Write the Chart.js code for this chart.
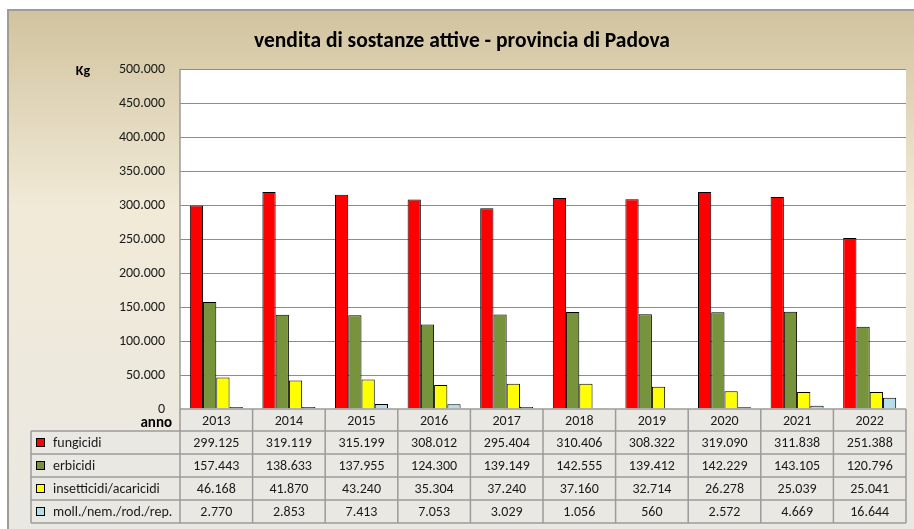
<!DOCTYPE html>
<html>
<head>
<meta charset="utf-8">
<script src="https://cdn.jsdelivr.net/npm/chart.js@4/dist/chart.umd.min.js"></script>
<style>
html,body{margin:0;padding:0;background:#ffffff;}
#wrap{width:914px;height:529px;position:relative;}
canvas{display:block;}
</style>
</head>
<body>
<div id="wrap"><canvas id="c" width="914" height="529"></canvas></div>
<script>
const title = "vendita di sostanze attive - provincia di Padova";
const years = ["2013","2014","2015","2016","2017","2018","2019","2020","2021","2022"];
const seriesNames = ["fungicidi","erbicidi","insetticidi/acaricidi","moll./nem./rod./rep."];
const fungicidi = [299125,319119,315199,308012,295404,310406,308322,319090,311838,251388];
const erbicidi = [157443,138633,137955,124300,139149,142555,139412,142229,143105,120796];
const insetticidi = [46168,41870,43240,35304,37240,37160,32714,26278,25039,25041];
const molluschicidi = [2770,2853,7413,7053,3029,1056,560,2572,4669,16644];
const seriesColors = ["#FF0000","#77933C","#FFFF00","#B7DEE8"];
const yMax = 500000, yStep = 50000;

const FONT = "Carlito, Lato, 'Liberation Sans', sans-serif";
function fmt(v){ return String(v).replace(/\B(?=(\d{3})+(?!\d))/g, "."); }

const allSeries = [fungicidi, erbicidi, insetticidi, molluschicidi];

const rowsY = [409, 431, 454, 477, 500, 523];
const tableLeft = 31;

const decor = {
  id: 'decor',
  beforeDraw(chart){
    const ctx = chart.ctx, ca = chart.chartArea;
    ctx.save();
    const g = ctx.createLinearGradient(0, 10, 0, 529);
    g.addColorStop(0, "#D1C39E");
    g.addColorStop(0.38, "#F1EAD7");
    g.addColorStop(1, "#EAE8E3");
    ctx.fillStyle = g;
    ctx.fillRect(8, 10, 906, 519);
    ctx.strokeStyle = "#9E9C94";
    ctx.lineWidth = 2;
    ctx.beginPath();
    ctx.moveTo(8, 529); ctx.lineTo(8, 10); ctx.lineTo(914, 10);
    ctx.stroke();
    // plot area
    ctx.fillStyle = "#FFFFFF";
    ctx.fillRect(ca.left, ca.top, ca.right - ca.left, ca.bottom - ca.top);
    // title
    ctx.fillStyle = "#000";
    ctx.font = "bold 21.5px " + FONT;
    ctx.textAlign = "center"; ctx.textBaseline = "middle";
    ctx.fillText(title, 462, 42);
    ctx.font = "bold 14px " + FONT;
    ctx.fillText("Kg", 83, 71);
    ctx.textAlign = "right";
    ctx.font = "bold 15px " + FONT;
    ctx.fillText("anno", 172, 423);
    ctx.restore();
  },
  afterDraw(chart){
    const ctx = chart.ctx, ca = chart.chartArea, xs = chart.scales.x;
    const n = years.length;
    const colW = (ca.right - ca.left) / n;
    ctx.save();
    // table background
    ctx.fillStyle = "#EAE8E2";
    ctx.fillRect(ca.left, rowsY[0], ca.right - ca.left, rowsY[1] - rowsY[0]);
    ctx.fillRect(tableLeft, rowsY[1], ca.right - tableLeft, rowsY[5] - rowsY[1]);
    ctx.strokeStyle = "#9B9B9B";
    ctx.lineWidth = 1.5;
    ctx.beginPath();
    // horizontal lines
    ctx.moveTo(ca.left, rowsY[0]); ctx.lineTo(ca.right, rowsY[0]);
    for (let r = 1; r < rowsY.length; r++){
      ctx.moveTo(tableLeft, rowsY[r]); ctx.lineTo(ca.right, rowsY[r]);
    }
    // vertical lines
    ctx.moveTo(tableLeft, rowsY[1]); ctx.lineTo(tableLeft, rowsY[5]);
    for (let i = 0; i <= n; i++){
      const x = xs.getPixelForValue(Math.min(i, n - 1)) + (i === n ? colW / 2 : -colW / 2);
      ctx.moveTo(x, rowsY[0]); ctx.lineTo(x, rowsY[5]);
    }
    ctx.stroke();
    // plot left border
    ctx.beginPath();
    ctx.moveTo(ca.left, ca.top); ctx.lineTo(ca.left, ca.bottom);
    ctx.stroke();
    // texts
    ctx.fillStyle = "#1a1a1a";
    ctx.font = "14px " + FONT;
    ctx.textAlign = "center"; ctx.textBaseline = "middle";
    for (let i = 0; i < n; i++){
      const cx = xs.getPixelForValue(i);
      ctx.fillText(years[i], cx, (rowsY[0] + rowsY[1]) / 2 + 1);
      for (let s = 0; s < allSeries.length; s++){
        ctx.fillText(fmt(allSeries[s][i]), cx, (rowsY[s + 1] + rowsY[s + 2]) / 2 + 1);
      }
    }
    ctx.textAlign = "left";
    for (let s = 0; s < seriesNames.length; s++){
      const cy = (rowsY[s + 1] + rowsY[s + 2]) / 2;
      ctx.fillStyle = seriesColors[s];
      ctx.fillRect(36.5, cy - 4, 8, 8);
      ctx.strokeStyle = "#000"; ctx.lineWidth = 1;
      ctx.strokeRect(36.5, cy - 4, 8, 8);
      ctx.fillStyle = "#1a1a1a";
      ctx.fillText(seriesNames[s], 53, cy + 1);
    }
    ctx.restore();
  }
};

new Chart(document.getElementById('c'), {
  type: 'bar',
  data: {
    labels: years,
    datasets: seriesNames.map((name, s) => ({
      label: name,
      data: allSeries[s],
      backgroundColor: seriesColors[s],
      borderColor: "#000000",
      borderWidth: 1,
      categoryPercentage: 0.73,
      barPercentage: 1.0
    }))
  },
  options: {
    responsive: false,
    animation: false,
    devicePixelRatio: 1,
    layout: { padding: { top: 69, bottom: 120, left: 0, right: 8 } },
    plugins: { legend: { display: false }, title: { display: false }, tooltip: { enabled: false } },
    scales: {
      x: { display: false, offset: true },
      y: {
        min: 0, max: yMax,
        border: { display: false },
        grid: { color: "#8C8C8C", lineWidth: 1, drawTicks: false,
                 drawOnChartArea: true },
        ticks: { stepSize: yStep, padding: 15, color: "#1a1a1a",
                 font: { family: FONT, size: 14 },
                 callback: v => fmt(v) },
        afterFit: s => { s.width = 180; }
      }
    }
  },
  plugins: [decor]
});
</script>
</body>
</html>
